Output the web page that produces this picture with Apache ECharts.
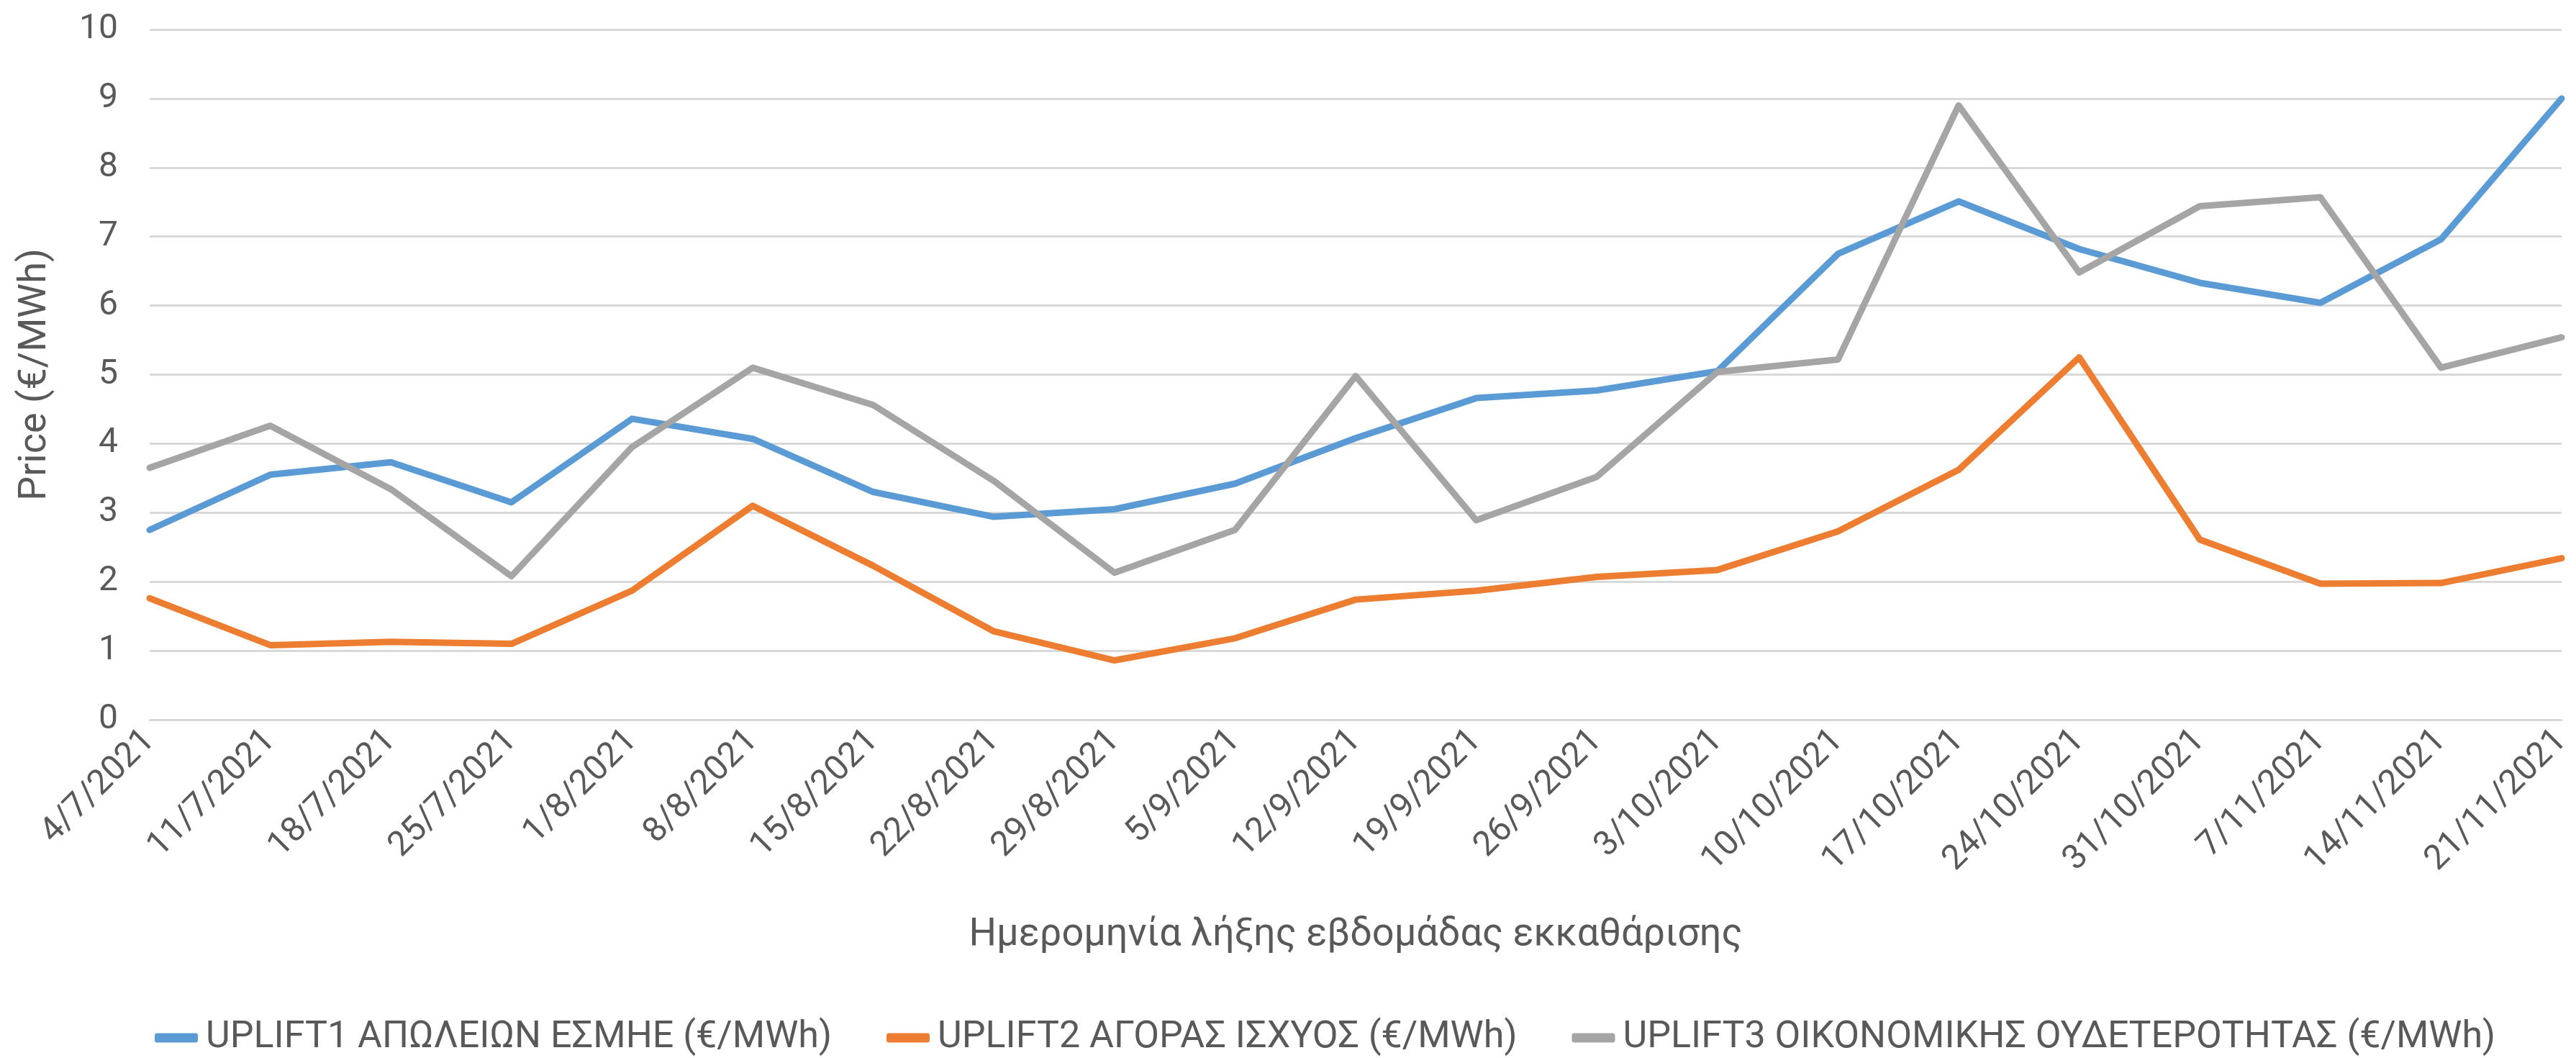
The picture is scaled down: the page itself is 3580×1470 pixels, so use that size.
<!DOCTYPE html>
<html>
<head>
<meta charset="utf-8">
<script src="https://cdn.jsdelivr.net/npm/echarts@6/dist/echarts.min.js"></script>
<style>
  html, body { margin: 0; padding: 0; background: #fff; }
  #chart { width: 3580px; height: 1470px; }
</style>
</head>
<body>
<div id="chart"></div>
<script>
// week-ending dates
const weeks = ['4/7/2021', '11/7/2021', '18/7/2021', '25/7/2021', '1/8/2021', '8/8/2021', '15/8/2021',
  '22/8/2021', '29/8/2021', '5/9/2021', '12/9/2021', '19/9/2021', '26/9/2021', '3/10/2021',
  '10/10/2021', '17/10/2021', '24/10/2021', '31/10/2021', '7/11/2021', '14/11/2021', '21/11/2021'];

const uplift1 = [2.75, 3.55, 3.73, 3.15, 4.36, 4.07, 3.30, 2.94, 3.05, 3.42, 4.08, 4.66, 4.77, 5.05,
  6.75, 7.51, 6.82, 6.33, 6.04, 6.96, 9.0];
const uplift2 = [1.76, 1.08, 1.13, 1.10, 1.87, 3.10, 2.23, 1.28, 0.86, 1.18, 1.74, 1.87, 2.07, 2.17,
  2.73, 3.62, 5.25, 2.61, 1.97, 1.98, 2.34];
const uplift3 = [3.65, 4.26, 3.34, 2.08, 3.95, 5.10, 4.56, 3.46, 2.13, 2.75, 4.98, 2.89, 3.52, 5.04,
  5.22, 8.90, 6.48, 7.44, 7.57, 5.10, 5.54];

const names = ['UPLIFT1 ΑΠΩΛΕΙΩΝ ΕΣΜΗΕ (€/MWh)', 'UPLIFT2 ΑΓΟΡΑΣ ΙΣΧΥΟΣ (€/MWh)',
  'UPLIFT3 ΟΙΚΟΝΟΜΙΚΗΣ ΟΥΔΕΤΕΡΟΤΗΤΑΣ (€/MWh)'];
const colors = ['#5b9bd5', '#ed7d31', '#a5a5a5'];

const textColor = '#595959';
const font = 'Roboto';

const chart = echarts.init(document.getElementById('chart'));

const mkLine = (name, data, color) => ({
  name: name,
  type: 'line',
  data: data,
  symbol: 'none',
  color: color,
  lineStyle: { width: 9, color: color, cap: 'round', join: 'round' },
  animation: false
});

chart.setOption({
  backgroundColor: '#fff',
  textStyle: { fontFamily: font, color: textColor },
  grid: { left: 208, right: 20, top: 41, bottom: 470 },
  legend: {
    left: 210,
    top: 1411,
    itemGap: 76,
    itemWidth: 60,
    itemHeight: 13,
    icon: 'roundRect',
    textStyle: { fontFamily: font, fontSize: 52, color: textColor, padding: [0, 0, 0, 6] },
    data: names
  },
  xAxis: {
    type: 'category',
    data: weeks,
    boundaryGap: false,
    name: 'Ημερομηνία λήξης εβδομάδας εκκαθάρισης',
    nameLocation: 'middle',
    nameGap: 272,
    nameTextStyle: { fontFamily: font, fontSize: 54, color: textColor },
    axisLine: { lineStyle: { color: '#d9d9d9', width: 3 } },
    axisTick: { show: false },
    axisLabel: { rotate: 45, fontSize: 48, color: textColor, margin: 22, interval: 0 }
  },
  yAxis: {
    type: 'value',
    min: 0,
    max: 10,
    interval: 1,
    name: 'Price (€/MWh)',
    nameLocation: 'middle',
    nameGap: 132,
    nameTextStyle: { fontFamily: font, fontSize: 54, color: textColor },
    axisLine: { show: false },
    axisTick: { show: false },
    axisLabel: { fontSize: 48, color: textColor, margin: 44 },
    splitLine: { lineStyle: { color: '#d9d9d9', width: 3 } }
  },
  series: [
    mkLine(names[0], uplift1, colors[0]),
    mkLine(names[1], uplift2, colors[1]),
    mkLine(names[2], uplift3, colors[2])
  ]
});
</script>
</body>
</html>
